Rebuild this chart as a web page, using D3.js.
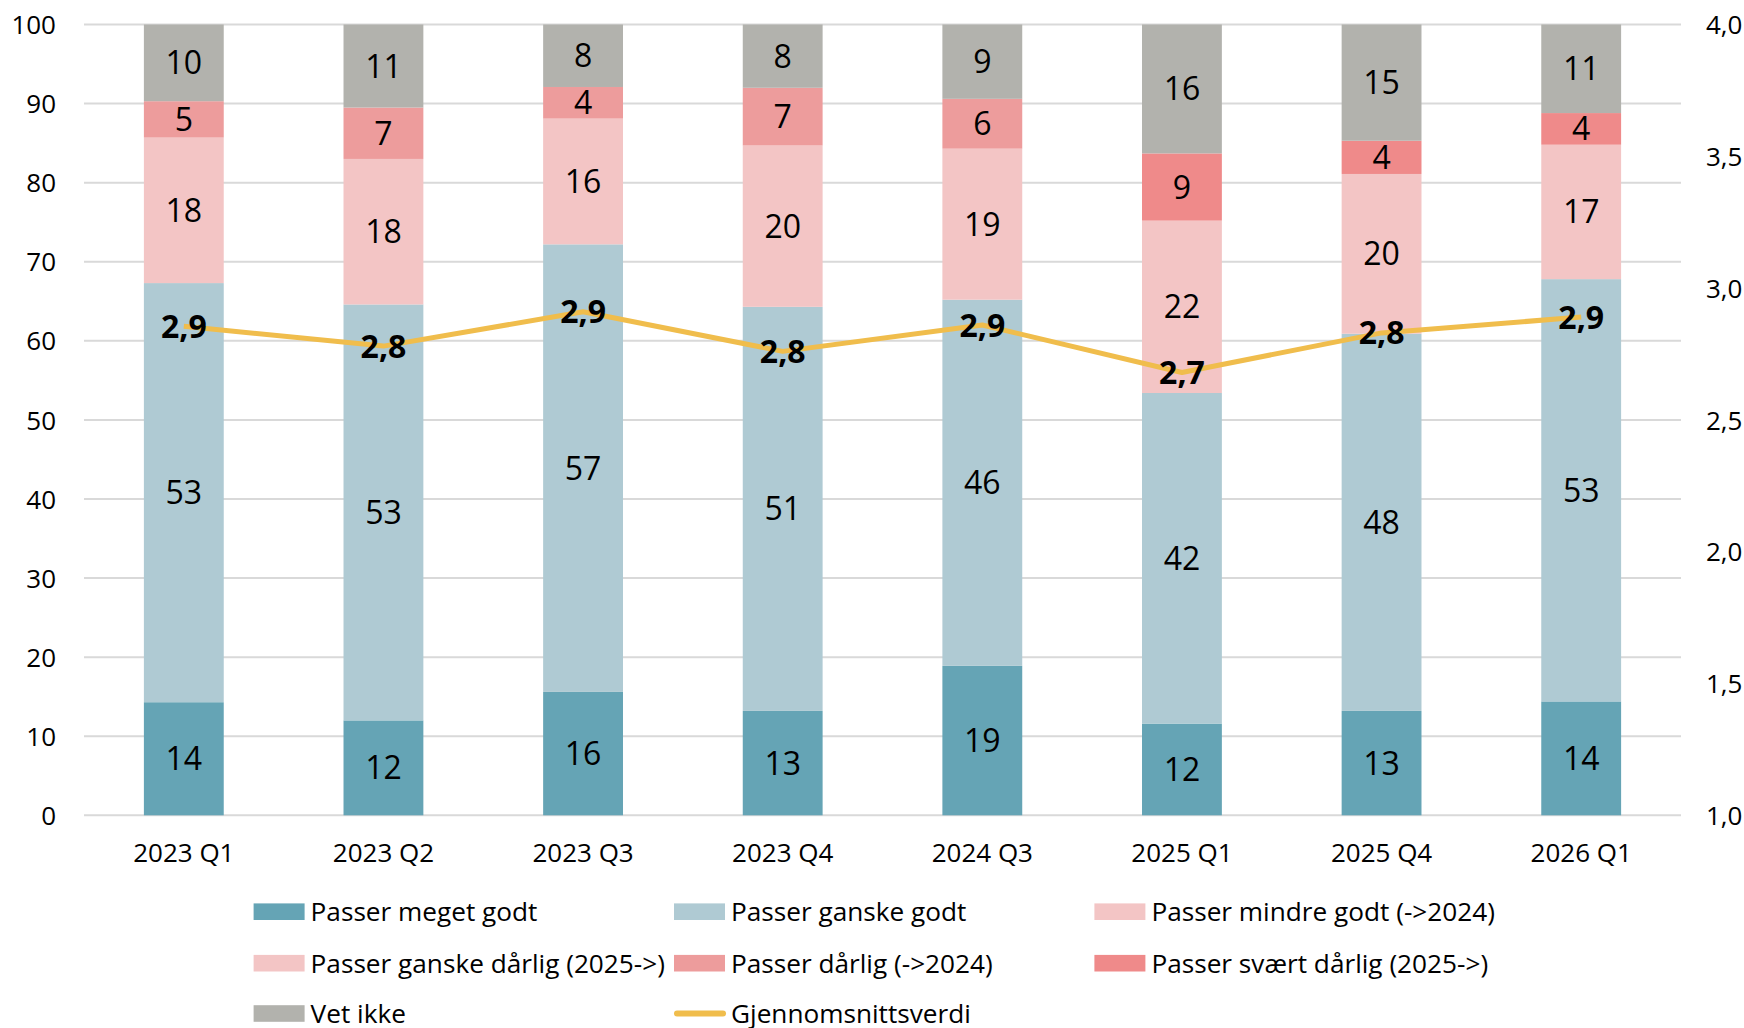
<!DOCTYPE html>
<html>
<head>
<meta charset="utf-8">
<script src="https://cdn.jsdelivr.net/npm/d3@7"></script>
<style>
  body { margin: 0; background: #fff; }
  svg text { font-family: "Open Sans", "Noto Sans", sans-serif; fill: #000; }
</style>
</head>
<body>
<svg id="chart"></svg>
<script>
// data
const categories = ["2023 Q1", "2023 Q2", "2023 Q3", "2023 Q4", "2024 Q3", "2025 Q1", "2025 Q4", "2026 Q1"];
const megetGodt    = [14.3, 12.0, 15.6, 13.2, 18.9, 11.6, 13.2, 14.4];
const ganskeGodt   = [53.0, 52.6, 56.6, 51.1, 46.3, 41.8, 47.7, 53.4];
const mindreGodt   = [18.4, 18.4, 15.9, 20.4, 19.1, 0, 0, 0];
const ganskeDarlig = [0, 0, 0, 0, 0, 21.8, 20.2, 17.0];
const darlig       = [4.6, 6.5, 4.0, 7.3, 6.3, 0, 0, 0];
const svaertDarlig = [0, 0, 0, 0, 0, 8.5, 4.2, 4.0];
const vetIkke      = [9.7, 10.5, 7.9, 8.0, 9.4, 16.3, 14.7, 11.2];
const snitt        = [2.855, 2.78, 2.91, 2.76, 2.86, 2.68, 2.83, 2.89];

const leftTicks = [0, 10, 20, 30, 40, 50, 60, 70, 80, 90, 100];
const rightTicks = [1.0, 1.5, 2.0, 2.5, 3.0, 3.5, 4.0];

const series = [
    { key: "megetGodt", name: "Passer meget godt", color: "#65a4b5", values: megetGodt },
    { key: "ganskeGodt", name: "Passer ganske godt", color: "#afcad3", values: ganskeGodt },
    { key: "mindreGodt", name: "Passer mindre godt (->2024)", color: "#f3c5c5", values: mindreGodt },
    { key: "ganskeDarlig", name: "Passer ganske dårlig (2025->)", color: "#f3c5c5", values: ganskeDarlig },
    { key: "darlig", name: "Passer dårlig (->2024)", color: "#ed9c9c", values: darlig },
    { key: "svaertDarlig", name: "Passer svært dårlig (2025->)", color: "#ef8a8a", values: svaertDarlig },
    { key: "vetIkke", name: "Vet ikke", color: "#b2b2ad", values: vetIkke }
];
const lineName = "Gjennomsnittsverdi";
const lineColor = "#f0bd4c";

// init setting
const svg = d3.select("#chart")
    .attr("width", 1744)
    .attr("height", 1028);
const plot = { left: 84, right: 1681, top: 24.5, bottom: 815.3 };

const nb = d3.formatLocale({ decimal: ",", thousands: " ", grouping: [3], currency: ["", " kr"] });
const fmt1 = nb.format(".1f");

// table for the stack
const table = categories.map((c, i) => {
    const row = { cat: c };
    series.forEach(s => { row[s.key] = s.values[i]; });
    return row;
});
const stacked = d3.stack().keys(series.map(s => s.key))(table);

// scales
const x = d3.scaleBand()
    .domain(categories)
    .range([plot.left, plot.right])
    .paddingInner(0.6)
    .paddingOuter(0.3);
const y = d3.scaleLinear().domain([0, 100]).range([plot.bottom, plot.top]);
const y2 = d3.scaleLinear().domain([1, 4]).range([plot.bottom, plot.top]);

// gridlines
svg.append("g")
    .selectAll("line")
    .data(leftTicks)
    .enter().append("line")
    .attr("x1", plot.left)
    .attr("x2", plot.right)
    .attr("y1", d => y(d))
    .attr("y2", d => y(d))
    .attr("stroke", "#d9d9d9")
    .attr("stroke-width", 2);

// left axis
const leftAxis = svg.append("g")
    .attr("transform", `translate(${plot.left},0)`)
    .call(d3.axisLeft(y).tickValues(leftTicks).tickSize(0).tickPadding(28));
leftAxis.select(".domain").remove();
leftAxis.selectAll("text")
    .attr("dy", "0.35em")
    .style("font-size", "26px");

// right axis
const rightAxis = svg.append("g")
    .attr("transform", `translate(${plot.right},0)`)
    .call(d3.axisRight(y2).tickValues(rightTicks).tickFormat(fmt1).tickSize(0).tickPadding(25));
rightAxis.select(".domain").remove();
rightAxis.selectAll("text")
    .attr("dy", "0.35em")
    .style("font-size", "26px");

// bottom axis
const bottomAxis = svg.append("g")
    .attr("transform", `translate(0,${plot.bottom})`)
    .call(d3.axisBottom(x).tickSize(0).tickPadding(28));
bottomAxis.select(".domain").remove();
bottomAxis.selectAll("text")
    .style("font-size", "26px");

// bars
const layers = svg.append("g")
    .selectAll("g")
    .data(stacked)
    .enter().append("g")
    .attr("fill", (d, i) => series[i].color);

layers.selectAll("rect")
    .data(d => d.filter(p => p[1] - p[0] > 0))
    .enter().append("rect")
    .attr("x", d => x(d.data.cat))
    .attr("width", x.bandwidth())
    .attr("y", d => y(d[1]))
    .attr("height", d => y(d[0]) - y(d[1]));

// segment labels (from the original values)
layers.each(function(layer) {
    d3.select(this).selectAll("text")
        .data(layer.filter(p => p.data[layer.key] > 0))
        .enter().append("text")
        .attr("x", d => x(d.data.cat) + x.bandwidth() / 2)
        .attr("y", d => y((d[0] + d[1]) / 2))
        .attr("dy", "0.36em")
        .attr("text-anchor", "middle")
        .style("font-size", "32px")
        .text(d => Math.round(d.data[layer.key]));
});

// average line
const line = d3.line()
    .x((d, i) => x(categories[i]) + x.bandwidth() / 2)
    .y(d => y2(d));
svg.append("path")
    .datum(snitt)
    .attr("d", line)
    .attr("fill", "none")
    .attr("stroke", lineColor)
    .attr("stroke-width", 5)
    .attr("stroke-linejoin", "round");

svg.append("g")
    .selectAll("text")
    .data(snitt)
    .enter().append("text")
    .attr("x", (d, i) => x(categories[i]) + x.bandwidth() / 2)
    .attr("y", d => y2(d))
    .attr("dy", "0.36em")
    .attr("text-anchor", "middle")
    .style("font-size", "32px")
    .style("font-weight", "bold")
    .text(d => fmt1(d));

// legend
const legendItems = series.map(s => ({ name: s.name, color: s.color, type: "rect" }))
    .concat([{ name: lineName, color: lineColor, type: "line" }]);
const legendX = [253.6, 674, 1094.4];
const legendY = [911.7, 963.2, 1013.5];

const legend = svg.append("g")
    .selectAll("g")
    .data(legendItems)
    .enter().append("g")
    .attr("transform", (d, i) => `translate(${legendX[i % 3]},${legendY[Math.floor(i / 3)]})`);

legend.filter(d => d.type === "rect")
    .append("rect")
    .attr("x", 0)
    .attr("y", -8.3)
    .attr("width", 51)
    .attr("height", 16.6)
    .attr("fill", d => d.color);

legend.filter(d => d.type === "line")
    .append("line")
    .attr("x1", 3)
    .attr("x2", 49)
    .attr("y1", 0)
    .attr("y2", 0)
    .attr("stroke", d => d.color)
    .attr("stroke-width", 6)
    .attr("stroke-linecap", "round");

legend.append("text")
    .attr("x", 57)
    .attr("y", 0)
    .attr("dy", "0.36em")
    .style("font-size", "26.2px")
    .text(d => d.name);
</script>
</body>
</html>
